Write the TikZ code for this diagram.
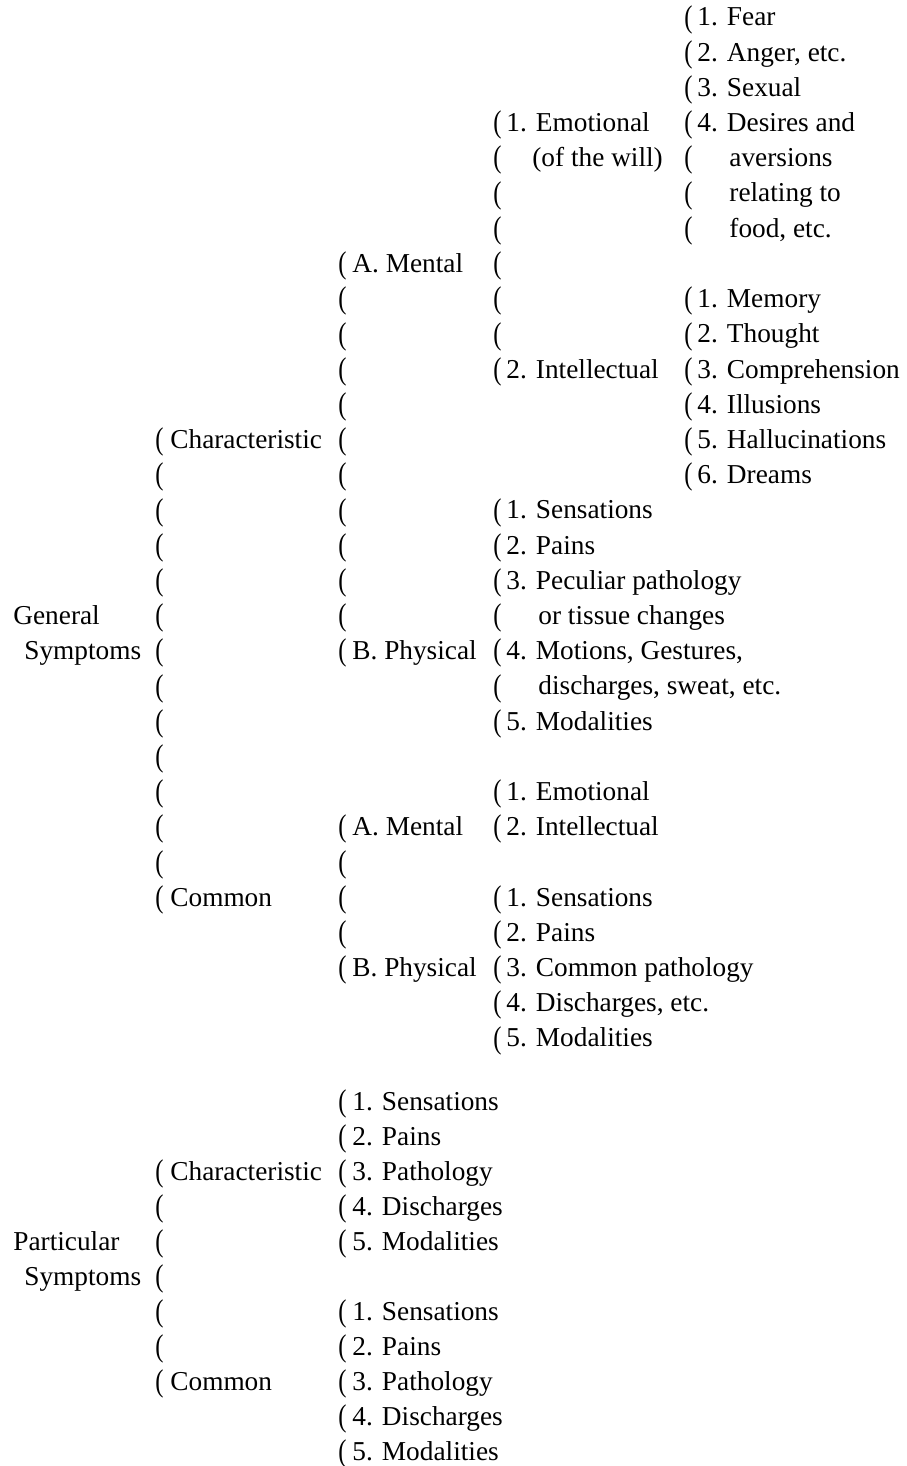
\documentclass[tikz,border=0pt]{standalone}
\usepackage{fontspec}
\usepackage{graphicx}
\setmainfont{Liberation Serif}
\newcommand{\ra}[1]{26+35.2*#1}
\newcommand{\rb}[1]{1110+35*#1}
\newcommand{\lp}{\raisebox{-0.6pt}{\scalebox{0.9}[1.15]{(}}}

\begin{document}
\begin{tikzpicture}[
  x=0.5pt, y=-0.5pt,
  font=\fontsize{13.65}{17}\selectfont,
  txt/.style={anchor=base west, inner sep=0pt},
  brk/.style={anchor=base west, inner sep=0pt},
]
\useasboundingbox (0,0) rectangle (906,1466);

% general symptoms
\node[txt] (general) at (13,{\ra{17}}) {General};
\node[txt] (gsym) at (24,{\ra{18}}) {Symptoms};

\foreach \i in {12,...,25}
  \node[brk] (ga-\i) at (155,{\ra{\i}}) {\lp};
\node[txt] (gchar) at (170,{\ra{12}}) {Characteristic};
\node[txt] (gcom) at (170,{\ra{25}}) {Common};

\foreach \i in {7,...,18}
  \node[brk] (gb-\i) at (338,{\ra{\i}}) {\lp};
\foreach \i in {23,...,27}
  \node[brk] (gb-\i) at (338,{\ra{\i}}) {\lp};
\node[txt] (gmental) at (352,{\ra{7}}) {A. Mental};
\node[txt] (gphys) at (352,{\ra{18}}) {B. Physical};
\node[txt] (cmental) at (352,{\ra{23}}) {A. Mental};
\node[txt] (cphys) at (352,{\ra{27}}) {B. Physical};

\foreach \i in {3,...,10}
  \node[brk] (gc-\i) at (493,{\ra{\i}}) {\lp};
\foreach \i in {14,...,20}
  \node[brk] (gc-\i) at (493,{\ra{\i}}) {\lp};
\foreach \i in {22,23}
  \node[brk] (gc-\i) at (493,{\ra{\i}}) {\lp};
\foreach \i in {25,...,29}
  \node[brk] (gc-\i) at (493,{\ra{\i}}) {\lp};
\node[txt] (emo) at (506,{\ra{3}}) {1. Emotional};
\node[txt] (will) at (532,{\ra{4}}) {(of the will)};
\node[txt] (intel) at (506,{\ra{10}}) {2. Intellectual};
\node[txt] (sens) at (506,{\ra{14}}) {1. Sensations};
\node[txt] (pains) at (506,{\ra{15}}) {2. Pains};
\node[txt] (pecul) at (506,{\ra{16}}) {3. Peculiar pathology};
\node[txt] (tissue) at (538,{\ra{17}}) {or tissue changes};
\node[txt] (motions) at (506,{\ra{18}}) {4. Motions, Gestures,};
\node[txt] (disch) at (538,{\ra{19}}) {discharges, sweat, etc.};
\node[txt] (modal) at (506,{\ra{20}}) {5. Modalities};
\node[txt] (cemo) at (506,{\ra{22}}) {1. Emotional};
\node[txt] (cintel) at (506,{\ra{23}}) {2. Intellectual};
\node[txt] (csens) at (506,{\ra{25}}) {1. Sensations};
\node[txt] (cpains) at (506,{\ra{26}}) {2. Pains};
\node[txt] (cpath) at (506,{\ra{27}}) {3. Common pathology};
\node[txt] (cdisch) at (506,{\ra{28}}) {4. Discharges, etc.};
\node[txt] (cmodal) at (506,{\ra{29}}) {5. Modalities};

\foreach \i in {0,...,6}
  \node[brk] (gd-\i) at (684,{\ra{\i}}) {\lp};
\foreach \i in {8,...,13}
  \node[brk] (gd-\i) at (684,{\ra{\i}}) {\lp};
\node[txt] (fear) at (697,{\ra{0}}) {1. Fear};
\node[txt] (anger) at (697,{\ra{1}}) {2. Anger, etc.};
\node[txt] (sexual) at (697,{\ra{2}}) {3. Sexual};
\node[txt] (desires) at (697,{\ra{3}}) {4. Desires and};
\node[txt] (aversions) at (729,{\ra{4}}) {aversions};
\node[txt] (relating) at (729,{\ra{5}}) {relating to};
\node[txt] (food) at (729,{\ra{6}}) {food, etc.};
\node[txt] (memory) at (697,{\ra{8}}) {1. Memory};
\node[txt] (thought) at (697,{\ra{9}}) {2. Thought};
\node[txt] (compr) at (697,{\ra{10}}) {3. Comprehension};
\node[txt] (illus) at (697,{\ra{11}}) {4. Illusions};
\node[txt] (halluc) at (697,{\ra{12}}) {5. Hallucinations};
\node[txt] (dreams) at (697,{\ra{13}}) {6. Dreams};

% particular symptoms
\node[txt] (partic) at (13,{\rb{4}}) {Particular};
\node[txt] (psym) at (24,{\rb{5}}) {Symptoms};

\foreach \i in {2,...,8}
  \node[brk] (pa-\i) at (155,{\rb{\i}}) {\lp};
\node[txt] (pchar) at (170,{\rb{2}}) {Characteristic};
\node[txt] (pcom) at (170,{\rb{8}}) {Common};

\foreach \i in {0,...,4}
  \node[brk] (pb-\i) at (338,{\rb{\i}}) {\lp};
\foreach \i in {6,...,10}
  \node[brk] (pb-\i) at (338,{\rb{\i}}) {\lp};
\node[txt] (psens) at (352,{\rb{0}}) {1. Sensations};
\node[txt] (ppains) at (352,{\rb{1}}) {2. Pains};
\node[txt] (ppath) at (352,{\rb{2}}) {3. Pathology};
\node[txt] (pdisch) at (352,{\rb{3}}) {4. Discharges};
\node[txt] (pmodal) at (352,{\rb{4}}) {5. Modalities};
\node[txt] (qsens) at (352,{\rb{6}}) {1. Sensations};
\node[txt] (qpains) at (352,{\rb{7}}) {2. Pains};
\node[txt] (qpath) at (352,{\rb{8}}) {3. Pathology};
\node[txt] (qdisch) at (352,{\rb{9}}) {4. Discharges};
\node[txt] (qmodal) at (352,{\rb{10}}) {5. Modalities};
\end{tikzpicture}
\end{document}
